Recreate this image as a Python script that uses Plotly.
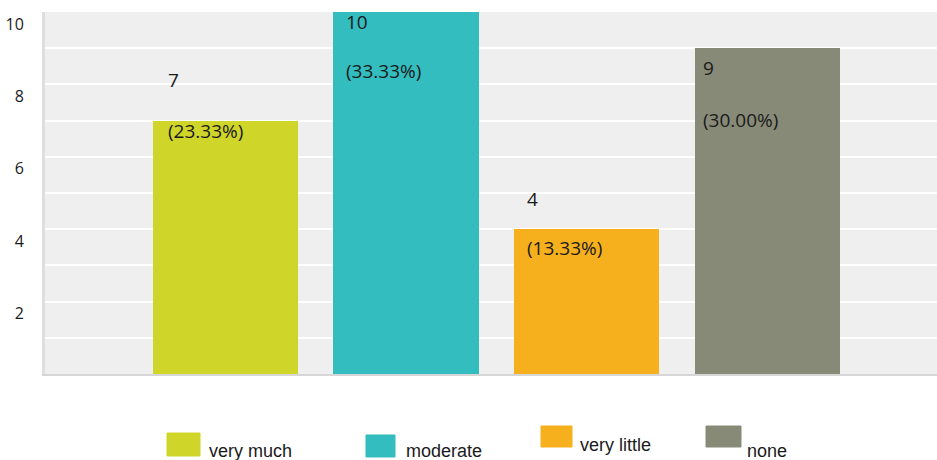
import plotly.graph_objects as go

# Survey responses
categories = ["very much", "moderate", "very little", "none"]
counts = [7, 10, 4, 9]
percents = ["23.33%", "33.33%", "13.33%", "30.00%"]
colors = ["#D0D52A", "#33BDBF", "#F6B01E", "#888A78"]

# y-axis tick labels (drawn at even values, gridlines at every integer)
tick_values = [2, 4, 6, 8, 10]
tick_labels = ["2", "4", "6", "8", "10"]

# label placement (pixels): horizontal inset from bar's left edge,
# vertical offsets of the count and percent text from the bar top
label_dx = [14, 12, 12, 7]
count_dy = [41, -10, 30, -20]
pct_dy = [-10, -59, -19, -72]

# page geometry
W, H = 937, 460
ML, MR, MT, MB = 45, 0, 12, 86
PW, PH = W - ML - MR, H - MT - MB
BAR_W = 0.805
X_RANGE = [-1.0, 3.94]
Y_RANGE = [0, 10.001]

fig = go.Figure()
fig.add_trace(go.Bar(
    x=list(range(len(categories))),
    y=counts,
    width=BAR_W,
    marker=dict(color=colors, line=dict(width=0)),
    hovertext=categories,
    showlegend=False,
))

label_font = dict(family="Open Sans", size=19, color="#1a1a1a")
for i, (c, p) in enumerate(zip(counts, percents)):
    left = i - BAR_W / 2
    fig.add_annotation(x=left, y=c, xref="x", yref="y", text=str(c),
                       xanchor="left", yanchor="middle", xshift=label_dx[i] - 1,
                       yshift=count_dy[i], showarrow=False, font=label_font)
    fig.add_annotation(x=left, y=c, xref="x", yref="y", text=f"({p})",
                       xanchor="left", yanchor="middle", xshift=label_dx[i] - 1,
                       yshift=pct_dy[i], showarrow=False, font=label_font)


def px_to_paper(px, py):
    return (px - ML) / PW, (H - MB - py) / PH


# legend drawn below the plot: swatch box and text anchor in page pixels
legend_boxes = [(167, 433, 200, 456), (366, 435, 395, 457),
                (541, 426, 572, 447), (706, 426, 741, 447)]
legend_text_pos = [(207, 451), (404, 451), (578, 445), (745, 451)]
legend_font = dict(family="Liberation Sans", size=18, color="#1a1a1a")
for name, col, box, tpos in zip(categories, colors, legend_boxes, legend_text_pos):
    x0, y0 = px_to_paper(box[0], box[3])
    x1, y1 = px_to_paper(box[2], box[1])
    fig.add_shape(type="rect", xref="paper", yref="paper",
                  x0=x0, x1=x1, y0=y0, y1=y1,
                  fillcolor=col, line=dict(color=col, width=1))
    tx, ty = px_to_paper(*tpos)
    fig.add_annotation(x=tx, y=ty, xref="paper", yref="paper", text=name,
                       xanchor="left", yanchor="middle", showarrow=False,
                       font=legend_font)

fig.update_layout(
    width=W, height=H,
    margin=dict(l=ML, r=MR, t=MT, b=MB, pad=0),
    paper_bgcolor="white",
    plot_bgcolor="#EFEFEF",
    bargap=0,
    xaxis=dict(range=X_RANGE, showgrid=False, zeroline=False,
               showticklabels=False, ticks="",
               showline=True, linecolor="#D6D6D6", linewidth=2),
    yaxis=dict(range=Y_RANGE, tickmode="array", tickvals=tick_values,
               ticktext=tick_labels, showgrid=True, gridcolor="white",
               gridwidth=2, zeroline=False, ticks="",
               ticklabelshift=12, ticklabelstandoff=15,
               tickfont=dict(family="Open Sans", size=16, color="#1a1a1a"),
               showline=True, linecolor="#DEDEDE", linewidth=3,
               minor=dict(tickvals=[1, 3, 5, 7, 9], showgrid=True,
                          gridcolor="white", gridwidth=2, ticks="")),
)

fig.write_html("out.html")
